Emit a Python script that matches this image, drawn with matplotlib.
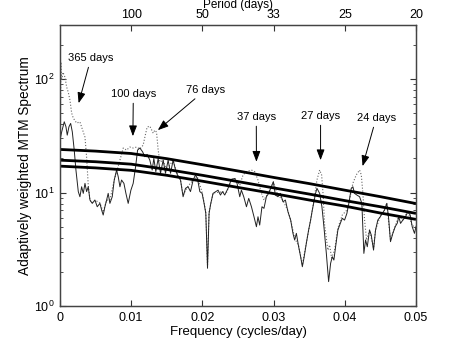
import numpy as np
import matplotlib
matplotlib.use("Agg")
import matplotlib.pyplot as plt
from matplotlib.ticker import LogLocator, NullFormatter

plt.rcParams['font.family'] = ['Liberation Sans', 'DejaVu Sans']
plt.rcParams['mathtext.fontset'] = 'custom'
plt.rcParams['mathtext.rm'] = 'Liberation Sans'
plt.rcParams['mathtext.it'] = 'Liberation Sans:italic'

# ---- data (frequency in cycles/day, spectrum values) ----
solid_f = [0.0, 0.00024, 0.0006, 0.00084, 0.00102, 0.00126, 0.0015, 0.00173, 0.002, 0.00224,
           0.00257, 0.0028, 0.00304, 0.00327, 0.00351, 0.00374, 0.00397, 0.00421, 0.00453, 0.00491,
           0.00523, 0.00561, 0.00585, 0.00607, 0.00631, 0.00655, 0.00677, 0.00701, 0.00734, 0.00762,
           0.00795, 0.00818, 0.00842, 0.00865, 0.00898, 0.00926, 0.00958, 0.00996, 0.01028, 0.01062,
           0.0109, 0.01122, 0.0116, 0.01192, 0.01224, 0.01262, 0.01295, 0.01318, 0.01346, 0.01379,
           0.01412, 0.01449, 0.01482, 0.01519, 0.01553, 0.01589, 0.01623, 0.01659, 0.01693, 0.01729,
           0.01763, 0.01799, 0.01833, 0.0187, 0.01903, 0.01931, 0.01964, 0.01996, 0.02024, 0.02048,
           0.02072, 0.02094, 0.02118, 0.0215, 0.02188, 0.0222, 0.02254, 0.02282, 0.02314, 0.0236,
           0.02408, 0.02454, 0.02487, 0.02525, 0.02548, 0.02581, 0.02619, 0.02651, 0.02689, 0.02725,
           0.02759, 0.02781, 0.02805, 0.02837, 0.02865, 0.02899, 0.02931, 0.02969, 0.02997, 0.03025,
           0.03062, 0.03095, 0.03132, 0.03166, 0.03202, 0.0324, 0.03272, 0.03296, 0.0332, 0.03352,
           0.0338, 0.03404, 0.03426, 0.0346, 0.03492, 0.0352, 0.03544, 0.03567, 0.0359, 0.03609,
           0.03647, 0.03679, 0.03707, 0.03741, 0.03773, 0.03801, 0.03825, 0.03847, 0.03871, 0.03903,
           0.03937, 0.03965, 0.03997, 0.0403, 0.04057, 0.04091, 0.04114, 0.04137, 0.0417, 0.04208,
           0.0424, 0.04268, 0.04292, 0.04316, 0.04348, 0.04372, 0.04404, 0.04432, 0.04464, 0.04498,
           0.04526, 0.04558, 0.0459, 0.04614, 0.04642, 0.04675, 0.04708, 0.04736, 0.04759, 0.04783,
           0.04815, 0.04853, 0.04885, 0.04919, 0.04947, 0.04979, 0.05]
solid_v = [29.0, 34.3, 42.1, 38.0, 32.1, 38.0, 40.7, 34.3, 23.7, 15.8,
           10.2, 9.19, 11.25, 9.84, 12.05, 10.2, 11.25, 8.59, 8.03, 8.59,
           7.50, 8.03, 7.01, 6.34, 7.50, 8.59, 9.84, 8.03, 9.19, 12.9,
           15.8, 13.8, 11.25, 12.9, 12.05, 9.84, 8.03, 10.5, 12.05, 16.9,
           23.7, 24.7, 22.9, 20.7, 21.7, 19.3, 15.8, 20.0, 15.3, 20.0,
           14.8, 19.3, 14.8, 19.3, 14.8, 19.3, 15.8, 13.8, 12.9, 9.19,
           10.9, 11.25, 10.2, 12.9, 14.3, 13.3, 10.2, 9.84, 8.03, 6.56,
           2.15, 6.56, 8.03, 9.84, 10.2, 10.5, 9.51, 10.2, 9.51, 10.9,
           13.1, 13.3, 12.05, 9.19, 10.5, 9.19, 7.50, 8.89, 7.50, 6.12,
           5.00, 6.12, 5.17, 7.50, 7.26, 9.19, 9.84, 11.25, 12.45, 9.51,
           9.19, 9.84, 8.30, 8.59, 6.77, 5.72, 4.37, 3.82, 4.37, 3.33,
           2.72, 2.22, 2.63, 3.57, 4.67, 5.72, 7.01, 8.30, 9.84, 10.9,
           9.84, 7.50, 5.00, 2.91, 1.64, 2.38, 2.72, 2.54, 3.33, 4.67,
           5.35, 5.93, 5.72, 6.56, 8.03, 10.9, 11.25, 9.84, 9.51, 9.19,
           8.03, 2.91, 3.82, 3.33, 4.67, 4.22, 3.11, 4.67, 5.72, 6.12,
           6.56, 7.01, 8.03, 6.12, 3.69, 4.37, 5.00, 5.35, 6.12, 5.35,
           5.72, 6.12, 6.77, 6.34, 5.00, 4.37, 5.00]

dotted_f = [0.0, 0.00014, 0.00024, 0.00042, 0.0007, 0.00094, 0.00116, 0.0014, 0.00164, 0.00187,
            0.00234, 0.0028, 0.00304, 0.00351, 0.00374, 0.00397, 0.00421, 0.00449, 0.00491, 0.00561,
            0.00607, 0.00655, 0.00701, 0.00762, 0.00795, 0.00842, 0.00888, 0.00935, 0.00982, 0.01028,
            0.01076, 0.01122, 0.01168, 0.01192, 0.01224, 0.01262, 0.01309, 0.01332, 0.01356, 0.01379,
            0.01403, 0.01449, 0.01496, 0.01543, 0.01589, 0.01637, 0.01693, 0.01729, 0.01799, 0.0187,
            0.01931, 0.01996, 0.02048, 0.02072, 0.02094, 0.0215, 0.02244, 0.02342, 0.02408, 0.02454,
            0.02525, 0.02571, 0.02619, 0.02689, 0.02735, 0.02781, 0.02829, 0.02865, 0.02931, 0.02997,
            0.03058, 0.03128, 0.03198, 0.0324, 0.03296, 0.03352, 0.03404, 0.0346, 0.0352, 0.03567,
            0.03609, 0.03647, 0.03675, 0.03696, 0.03717, 0.03763, 0.03787, 0.03815, 0.03857, 0.03903,
            0.03965, 0.0403, 0.04067, 0.04114, 0.04161, 0.04208, 0.04232, 0.04254, 0.04278, 0.04306,
            0.04348, 0.04404, 0.04432, 0.04498, 0.04558, 0.0459, 0.04642, 0.04708, 0.04759, 0.04815,
            0.04885, 0.04947, 0.05]
dotted_v = [23.7, 141, 98, 115, 104, 85, 76.8, 65.3, 50.2, 45.3,
            41.0, 42.0, 37.8, 30.8, 20.5, 11.6, 8.59, 8.1, 8.59, 8.1,
            6.73, 8.59, 8.59, 12.9, 15.2, 19.3, 24.7, 23.7, 25.2, 24.7,
            25.2, 24.2, 26.2, 30.8, 37.8, 38.5, 33.4, 35.5, 34.1, 23.7,
            18.6, 19.3, 15.8, 17.5, 19.3, 15.2, 12.9, 9.51, 11.4, 12.9,
            13.7, 10.1, 6.73, 2.30, 6.73, 9.9, 10.1, 10.1, 12.9, 13.4,
            11.6, 14.3, 15.3, 15.8, 15.3, 12.9, 9.9, 8.59, 10.1, 12.4,
            9.51, 8.59, 7.01, 5.72, 3.97, 3.38, 2.30, 3.59, 5.72, 8.59,
            12.9, 15.8, 14.3, 9.51, 5.17, 3.11, 3.45, 2.65, 3.11, 4.87,
            6.34, 7.01, 8.59, 12.1, 14.3, 15.8, 14.3, 9.9, 5.72, 3.82,
            4.67, 3.24, 4.67, 6.21, 7.01, 8.1, 3.82, 5.07, 6.21, 5.72,
            6.87, 5.07, 5.07]

conf_f = [0.0, 0.005, 0.01, 0.015, 0.02, 0.025, 0.03, 0.035, 0.04, 0.045, 0.05]
conf_top = [24.0, 23.2, 22.1, 19.9, 17.6, 15.5, 13.6, 12.0, 10.5, 9.2, 8.0]
conf_mid = [19.3, 18.7, 17.8, 16.0, 14.2, 12.5, 11.0, 9.7, 8.5, 7.5, 6.55]
conf_low = [17.1, 16.5, 15.7, 14.2, 12.6, 11.1, 9.8, 8.6, 7.6, 6.6, 5.8]

x_ticks = [0, 0.01, 0.02, 0.03, 0.04, 0.05]
x_ticklabels = ['0', '0.01', '0.02', '0.03', '0.04', '0.05']
period_ticks = [0.01, 0.02, 0.03, 0.04, 0.05]
period_labels = ['100', '50', '33', '25', '20']

# annotations: label, arrow tip (f, v), text centre (f, v)
ann_labels = ['365 days', '100 days', '76 days', '37 days', '27 days', '24 days']
ann_tip_f = [0.00262, 0.01024, 0.01374, 0.02759, 0.0366, 0.0425]
ann_tip_v = [61.4, 31.4, 35.5, 18.7, 19.3, 17.1]
ann_txt_f = [0.00435, 0.0103, 0.0204, 0.02757, 0.0366, 0.0444]
ann_txt_v = [153, 73.8, 80, 46.3, 47.2, 45.3]

fig = plt.figure(figsize=(4.6, 3.46), dpi=100)
ax = fig.add_axes([0.1304, 0.1156, 0.7739, 0.8121])

ax.plot(dotted_f, dotted_v, linestyle=':', color='#666666', lw=0.8)
ax.plot(solid_f, solid_v, color='#222222', lw=0.7)
for cv in (conf_top, conf_mid, conf_low):
    ax.plot(conf_f, cv, color='black', lw=2.0, solid_capstyle='butt')

ax.set_yscale('log')
ax.set_xlim(0, 0.05)
ax.set_ylim(1, 300)
ax.set_xticks(x_ticks)
ax.set_xticklabels(x_ticklabels)
ax.yaxis.set_major_locator(LogLocator(base=10, numticks=5))
ax.yaxis.set_minor_locator(LogLocator(base=10, subs=np.arange(2, 10), numticks=20))
ax.yaxis.set_minor_formatter(NullFormatter())
ax.tick_params(which='both', direction='in', right=True, labelsize=9, pad=4,
               colors='#333333', labelcolor='black')
ax.tick_params(which='major', length=4)
ax.tick_params(which='minor', length=2.5)
for s in ax.spines.values():
    s.set_color('#444444')
    s.set_linewidth(0.9)

ax.set_xlabel('Frequency (cycles/day)', fontsize=9.5, labelpad=2)
ax.set_ylabel('Adaptively weighted MTM Spectrum', fontsize=9.8, labelpad=1)

ax2 = ax.twiny()
ax2.set_xlim(ax.get_xlim())
ax2.set_xticks(period_ticks)
ax2.set_xticklabels(period_labels)
ax2.tick_params(direction='in', length=4, labelsize=9, pad=3, colors='#333333', labelcolor='black')
ax2.set_xlabel('Period (days)', fontsize=8.5, labelpad=0.5)
for s in ax2.spines.values():
    s.set_color('#444444')
    s.set_linewidth(0.9)

for lab, tf, tv, xf, xv in zip(ann_labels, ann_tip_f, ann_tip_v, ann_txt_f, ann_txt_v):
    ax.annotate(lab, xy=(tf, tv), xytext=(xf, xv), ha='center', va='center', fontsize=8,
                arrowprops=dict(arrowstyle='-|>,head_length=0.8,head_width=0.3', color='black',
                                lw=0.7, shrinkA=1, shrinkB=0))

fig.savefig('out.png', dpi=100)
